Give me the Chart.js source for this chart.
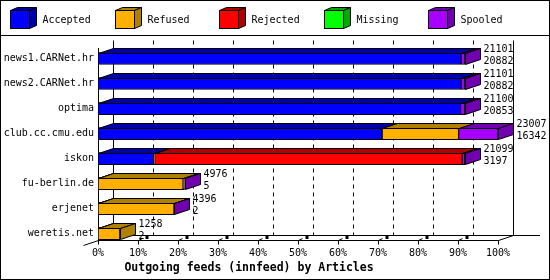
<!DOCTYPE html>
<html>
<head>
<meta charset="utf-8">
<script src="https://cdn.jsdelivr.net/npm/chart.js@4.4.1/dist/chart.umd.min.js"></script>
<style>
  html, body { margin: 0; padding: 0; background: #fff; }
  canvas { display: block; }
</style>
</head>
<body>
<canvas id="feeds" width="550" height="280"></canvas>
<script>
// innfeed outgoing feeds, articles per peer
const hosts = ['news1.CARNet.hr', 'news2.CARNet.hr', 'optima', 'club.cc.cmu.edu', 'iskon', 'fu-berlin.de', 'erjenet', 'weretis.net'];
const offered  = [21101, 21101, 21100, 23007, 21099, 4976, 4396, 1258];
const accepted = [20882, 20882, 20853, 16342, 3197, 5, 2, 2];
const refused  = [0, 0, 0, 4400, 60, 4891, 4370, 1256];
const rejected = [0, 0, 0, 0, 17692, 0, 0, 0];
const missing  = [0, 0, 0, 0, 0, 0, 0, 0];
const spooled  = [219, 219, 247, 2265, 150, 80, 24, 0];

const seriesNames = ['Accepted', 'Refused', 'Rejected', 'Missing', 'Spooled'];
const seriesData = [accepted, refused, rejected, missing, spooled];
const fronts = ['#0000ff', '#ffb000', '#ff0000', '#00ff00', '#a800ff'];
const shades = ['#0000a8', '#b08000', '#b00000', '#00a800', '#7000b0'];

const MONO = '"DejaVu Sans Mono", "Liberation Mono", monospace';
const DX = 15, DY = 5;   // 3d depth
const maxOffered = Math.max(...offered);
const pct = arr => arr.map(v => v * 100 / maxOffered);

function poly(ctx, pts, fill){
  ctx.beginPath();
  ctx.moveTo(pts[0][0], pts[0][1]);
  for (let i = 1; i < pts.length; i++) ctx.lineTo(pts[i][0], pts[i][1]);
  ctx.closePath();
  if (fill){ ctx.fillStyle = fill; ctx.fill(); }
  ctx.stroke();
}
function line(ctx, x1, y1, x2, y2){
  ctx.beginPath(); ctx.moveTo(x1, y1); ctx.lineTo(x2, y2); ctx.stroke();
}

// white page, border, cube legend
const framePlugin = {
  id: 'framePlugin',
  beforeDraw(chart){
    const { ctx, width, height } = chart;
    ctx.save();
    ctx.fillStyle = '#fff';
    ctx.fillRect(0, 0, width, height);
    ctx.strokeStyle = '#000';
    ctx.lineWidth = 1;
    ctx.strokeRect(0.5, 0.5, width - 1, height - 1);
    line(ctx, 0, 35.5, width, 35.5);
    // legend
    ctx.font = '10px ' + MONO;
    ctx.textBaseline = 'middle';
    ctx.textAlign = 'left';
    seriesNames.forEach((name, i) => {
      const x = Math.round(10 + 104.5 * i) + 0.5, y = 10.5, w = 19, h = 18;
      poly(ctx, [[x, y], [x + w, y], [x + w + 7, y - 3], [x + 7, y - 3]], shades[i]);
      poly(ctx, [[x + w, y], [x + w + 7, y - 3], [x + w + 7, y + h - 3], [x + w, y + h]], shades[i]);
      ctx.fillStyle = fronts[i];
      ctx.fillRect(x, y, w, h);
      ctx.strokeRect(x, y, w, h);
      ctx.fillStyle = '#000';
      ctx.fillText(name, x + 32, 20);
    });
    ctx.restore();
  },
  // back wall, floor, axis lines
  beforeDatasetsDraw(chart){
    const { ctx, chartArea, scales } = chart;
    const xs = scales.x;
    const x0 = Math.round(xs.getPixelForValue(0)) + 0.5;
    const x100 = Math.round(xs.getPixelForValue(100)) + 0.5;
    const yF = Math.round(chartArea.bottom - 6) + 0.5;
    const yB = yF - DY;
    const yTop = Math.round(chartArea.top - 6) + 0.5;
    ctx.save();
    ctx.strokeStyle = '#000';
    ctx.lineWidth = 1;
    for (let v = 0; v <= 100; v += 10){
      const x = Math.round(xs.getPixelForValue(v)) + 0.5;
      ctx.setLineDash(v === 0 || v === 100 ? [] : [4, 4]);
      line(ctx, x + DX, yTop, x + DX, yB);
      ctx.setLineDash([]);
      line(ctx, x, yF, x, yF + 4);
      if (v > 0 && v < 100){
        line(ctx, x, yF, x + 4, yF - 2);
        ctx.fillStyle = '#000';
        ctx.fillRect(x + 7, yF - 4.5, 3, 3);
      }
    }
    line(ctx, x0 + DX, yB, chart.width - 10, yB);
    line(ctx, x0, yF, x100, yF);
    line(ctx, x0, chartArea.top + 2, x0, yF);
    line(ctx, x0 - DX, yF + DY, x0, yF);
    line(ctx, x0, yF, x0 + DX, yB);
    line(ctx, x100, yF, x100 + DX, yB);
    ctx.restore();
  },
  // top and side faces, value labels
  afterDatasetsDraw(chart){
    const { ctx } = chart;
    ctx.save();
    ctx.strokeStyle = '#000';
    ctx.lineWidth = 1;
    hosts.forEach((host, i) => {
      let last = null, lastIdx = -1;
      seriesData.forEach((arr, d) => {
        if (!arr[i]) return;
        const el = chart.getDatasetMeta(d).data[i];
        const l = Math.round(Math.min(el.base, el.x)) + 0.5;
        const r = Math.round(Math.max(el.base, el.x)) + 0.5;
        const t = Math.round(el.y - el.height / 2) + 0.5;
        poly(ctx, [[l, t], [r, t], [r + DX, t - DY], [l + DX, t - DY]], shades[d]);
        last = { r, t, b: t + Math.round(el.height) - 1, cy: el.y };
        lastIdx = d;
      });
      if (!last) return;
      const { r, t, b, cy } = last;
      poly(ctx, [[r, t], [r + DX, t - DY], [r + DX, b - DY], [r, b]], shades[lastIdx]);
      ctx.fillStyle = '#000';
      ctx.font = '10px ' + MONO;
      ctx.textAlign = 'left';
      ctx.textBaseline = 'middle';
      ctx.fillText(String(offered[i]), r + DX + 3, cy - 9);
      ctx.fillText(String(accepted[i]), r + DX + 3, cy + 3);
    });
    ctx.restore();
  }
};

new Chart(document.getElementById('feeds'), {
  type: 'bar',
  data: {
    labels: hosts,
    datasets: seriesNames.map((name, d) => ({
      label: name,
      data: pct(seriesData[d]),
      backgroundColor: fronts[d],
      borderColor: '#000',
      borderWidth: 1,
      borderSkipped: false,
      barThickness: 12
    }))
  },
  options: {
    responsive: false,
    animation: false,
    indexAxis: 'y',
    layout: { padding: { top: 46, right: 52, bottom: 5, left: 0 } },
    scales: {
      x: {
        stacked: true, min: 0, max: 100,
        grid: { display: false, drawTicks: false }, border: { display: false },
        ticks: { stepSize: 10, autoSkip: false, maxRotation: 0, padding: 1, color: '#000',
                 font: { family: MONO, size: 10 }, callback: v => v + '%' },
        afterFit(s){ s.height = 15; }
      },
      y: {
        stacked: true,
        grid: { display: false, drawTicks: false }, border: { display: false },
        ticks: { autoSkip: false, padding: 4, color: '#000', font: { family: MONO, size: 10 } },
        afterFit(s){ s.width = 98; }
      }
    },
    plugins: {
      legend: { display: false },
      tooltip: { enabled: false },
      title: {
        display: true, position: 'bottom', text: 'Outgoing feeds (innfeed) by Articles',
        color: '#000', padding: 0, font: { family: MONO, size: 11.5, weight: 'bold' }
      }
    }
  },
  plugins: [framePlugin]
});
</script>
</body>
</html>
